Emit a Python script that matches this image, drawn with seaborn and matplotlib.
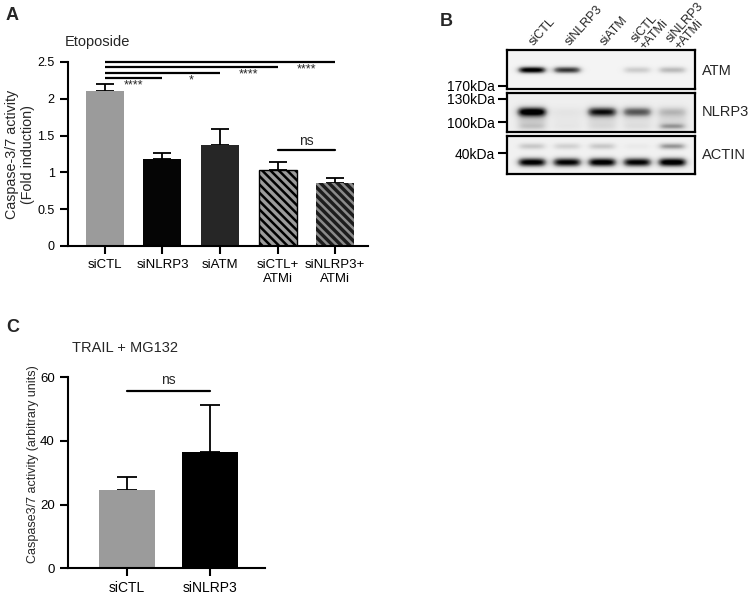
import numpy as np
import pandas as pd
import matplotlib
matplotlib.use("Agg")
import matplotlib.pyplot as plt
import seaborn as sns

# ---------------- data ----------------
# Panel A: Etoposide
a_groups = ["siCTL", "siNLRP3", "siATM", "siCTL+\nATMi", "siNLRP3+\nATMi"]
a_means = [2.10, 1.18, 1.37, 1.03, 0.86]
a_sem = [0.10, 0.09, 0.22, 0.11, 0.07]
a_colors = ["#9b9b9b", "#050505", "#262626", "#9b9b9b", "#1c1c1c"]
a_yticks = [0, 0.5, 1, 1.5, 2, 2.5]
a_yticklabels = ["0", "0.5", "1", "1.5", "2", "2.5"]
# comparisons: (group i, group j, height, label)
a_sig_from = [0, 0, 0, 0, 3]
a_sig_to = [1, 2, 3, 4, 4]
a_sig_y = [2.28, 2.355, 2.43, 2.50, 1.30]
a_sig_lab = ["****", "*", "****", "****", "ns"]

# Panel B: western blot (band darkness per lane, 0 = none, 1 = saturated)
b_lanes = ["siCTL", "siNLRP3", "siATM", "siCTL\n+ATMi", "siNLRP3\n+ATMi"]
b_atm = [0.97, 0.75, 0.0, 0.22, 0.30]
b_nlrp3 = [0.95, 0.04, 0.80, 0.58, 0.22]
b_nlrp3_smear = [0.18, 0.04, 0.12, 0.08, 0.12]
b_nlrp3_low = [0.10, 0.02, 0.04, 0.04, 0.30]
b_actin = [0.95, 0.92, 0.97, 0.92, 1.0]
b_actin_up = [0.22, 0.18, 0.22, 0.05, 0.40]
b_markers_1 = ["170kDa"]
b_markers_2 = ["130kDa", "100kDa"]
b_markers_3 = ["40kDa"]
b_targets = ["ATM", "NLRP3", "ACTIN"]

# Panel C: TRAIL + MG132
c_groups = ["siCTL", "siNLRP3"]
c_means = [24.6, 36.6]
c_sem = [4.2, 14.7]
c_colors = ["#9b9b9b", "#000000"]

# ---------------- style ----------------
sns.set_theme(style="ticks")
plt.rcParams["font.family"] = ["Liberation Sans", "DejaVu Sans"]
plt.rcParams["hatch.linewidth"] = 1.8
plt.rcParams["axes.linewidth"] = 1.5

W, H = 748, 595
fig = plt.figure(figsize=(W / 100, H / 100), dpi=100)


def px_axes(l, t, r, b):
    return fig.add_axes([l / W, 1 - b / H, (r - l) / W, (b - t) / H])


# ---------------- Panel A ----------------
axA = px_axes(68, 62, 368, 246)
dfA = pd.DataFrame({"group": a_groups, "value": a_means})
sns.barplot(data=dfA, x="group", y="value", hue="group", palette=a_colors,
            order=a_groups, hue_order=a_groups, legend=False, errorbar=None,
            width=0.66, saturation=1, linewidth=0, ax=axA, zorder=2)
bars = axA.patches
bars[3].set_hatch("\\\\\\\\")
bars[3].set_edgecolor("black")
bars[3].set_linewidth(1.0)
bars[4].set_hatch("\\\\\\\\")
bars[4].set_edgecolor("#8a8a8a")
bars[4].set_linewidth(0)
axA.errorbar(range(len(a_means)), a_means,
             yerr=[np.zeros(len(a_means)), a_sem], fmt="none",
             ecolor="black", elinewidth=1.3, capsize=6.5, capthick=1.3, zorder=1)
axA.set_xlim(-0.64, 4.57)
axA.set_ylim(0, 2.5)
axA.set_yticks(a_yticks)
axA.set_yticklabels(a_yticklabels)
axA.set_xlabel("")
axA.set_ylabel("")
axA.tick_params(axis="both", direction="out", length=6, width=1.5,
                labelsize=9, colors="black")
axA.tick_params(axis="x", labelsize=9.5)
for s in ["top", "right"]:
    axA.spines[s].set_visible(False)
for s in ["left", "bottom"]:
    axA.spines[s].set_color("black")

for i, j, y, lab in zip(a_sig_from, a_sig_to, a_sig_y, a_sig_lab):
    if lab == "ns":
        axA.plot([i, j], [y, y], color="black", lw=1.6, clip_on=False)
        axA.text((i + j) / 2, y + 0.03, lab, ha="center", va="bottom",
                 fontsize=10)
    else:
        axA.plot([i, j], [y, y], color="black", lw=1.6, clip_on=False,
                 solid_capstyle="butt")
        axA.text(j - 0.5, y - 0.02, lab, ha="center", va="top", fontsize=9)

fig.text(20 / W, 1 - 154 / H, "Caspase-3/7 activity\n(Fold induction)",
         rotation=90, ha="center", va="center", fontsize=10.3,
         linespacing=1.15)
fig.text(65 / W, 1 - 42 / H, "Etoposide", ha="left", va="center",
         fontsize=10.5)
fig.text(6 / W, 1 - 15 / H, "A", ha="left", va="center", fontsize=13,
         fontweight="bold")

# ---------------- Panel B ----------------
lane_x0, lane_dx = 24.7, 35.25
box_w = 188
ext_l = -lane_x0 / lane_dx
ext_r = (box_w - lane_x0) / lane_dx


def blot_image(height, bands, bg):
    xs = np.linspace(ext_l, ext_r, box_w)
    ys = np.arange(height) + 0.5
    X, Y = np.meshgrid(xs, ys)
    img = np.full_like(X, bg)
    for (vals, yc, sig, hw) in bands:
        for k, v in enumerate(vals):
            px = 1 / (1 + np.exp((np.abs(X - k) - hw) / 0.06))
            py = np.exp(-0.5 * ((Y - yc) / sig) ** 2)
            img = img + v * px * py
    return np.clip(img, 0, 1)


blot_boxes = [(50, 89), (93.3, 131.7), (135.7, 174)]
blot_bg = [0.09, 0.13, 0.11]
blot_bands = [
    [(b_atm, 20, 2.4, 0.36)],
    [(b_nlrp3_smear, 27, 7.0, 0.40), (b_nlrp3, 18.4, 3.2, 0.38),
     (b_nlrp3_low, 32.5, 2.0, 0.34)],
    [(b_actin, 26.6, 3.0, 0.37), (b_actin_up, 11.0, 2.2, 0.35)],
]
blot_ticks = [[35.7], [5.7, 29.0], [17.6]]
blot_marks = [b_markers_1, b_markers_2, b_markers_3]
blot_label_y = [21, 18.4, 19.3]

for bi, ((t, b), bg, bands, ticks, marks, tgt, ly) in enumerate(
        zip(blot_boxes, blot_bg, blot_bands, blot_ticks, blot_marks,
            b_targets, blot_label_y)):
    ax = px_axes(507, t, 695, b)
    h = b - t
    img = blot_image(int(round(h)), bands, bg)
    ax.imshow(img, cmap="Greys", vmin=0, vmax=1, aspect="auto",
              extent=(ext_l, ext_r, h, 0), interpolation="bilinear")
    ax.set_xlim(ext_l, ext_r)
    ax.set_ylim(h, 0)
    ax.set_yticks(ticks)
    ax.set_yticklabels(marks)
    ax.tick_params(axis="y", direction="out", length=6.5, width=1.5,
                   labelsize=10, pad=2, colors="black")
    for s in ax.spines.values():
        s.set_visible(True)
        s.set_color("black")
        s.set_linewidth(1.6)
    ax.text(1.035, ly, tgt, transform=ax.get_yaxis_transform(),
            ha="left", va="center", fontsize=10.5)
    if bi == 0:
        ax.xaxis.tick_top()
        ax.set_xticks(range(len(b_lanes)))
        ax.set_xticklabels(b_lanes, rotation=48, ha="left",
                           rotation_mode="anchor", va="center",
                           fontsize=9, linespacing=0.95)
        ax.tick_params(axis="x", length=0, pad=4)
    else:
        ax.set_xticks([])

fig.text(440 / W, 1 - 22 / H, "B", ha="left", va="center", fontsize=13,
         fontweight="bold")

# ---------------- Panel C ----------------
axC = px_axes(68, 377.3, 265, 568.3)
dfC = pd.DataFrame({"group": c_groups, "value": c_means})
sns.barplot(data=dfC, x="group", y="value", hue="group", palette=c_colors,
            order=c_groups, hue_order=c_groups, legend=False, errorbar=None,
            width=0.67, saturation=1, linewidth=0, ax=axC, zorder=2)
axC.errorbar(range(len(c_means)), c_means,
             yerr=[np.zeros(len(c_means)), c_sem], fmt="none",
             ecolor="black", elinewidth=1.3, capsize=7.5, capthick=1.3, zorder=1)
axC.set_xlim(-0.71, 1.66)
axC.set_ylim(0, 60)
axC.set_yticks([0, 20, 40, 60])
axC.set_xlabel("")
axC.set_ylabel("")
axC.tick_params(axis="both", direction="out", length=6, width=1.5,
                labelsize=9.5, colors="black")
axC.tick_params(axis="x", pad=3, labelsize=10)
for s in ["top", "right"]:
    axC.spines[s].set_visible(False)
for s in ["left", "bottom"]:
    axC.spines[s].set_color("black")
axC.plot([0, 1], [55.8, 55.8], color="black", lw=1.6, clip_on=False)
axC.text(0.5, 56.8, "ns", ha="center", va="bottom", fontsize=10)

fig.text(33 / W, 1 - 464 / H, "Caspase3/7 activity (arbitrary units)",
         rotation=90, ha="center", va="center", fontsize=9)
fig.text(72 / W, 1 - 348 / H, "TRAIL + MG132", ha="left", va="center",
         fontsize=10.5)
fig.text(6 / W, 1 - 328 / H, "C", ha="left", va="center", fontsize=13,
         fontweight="bold")

fig.savefig("out.png", dpi=100)
